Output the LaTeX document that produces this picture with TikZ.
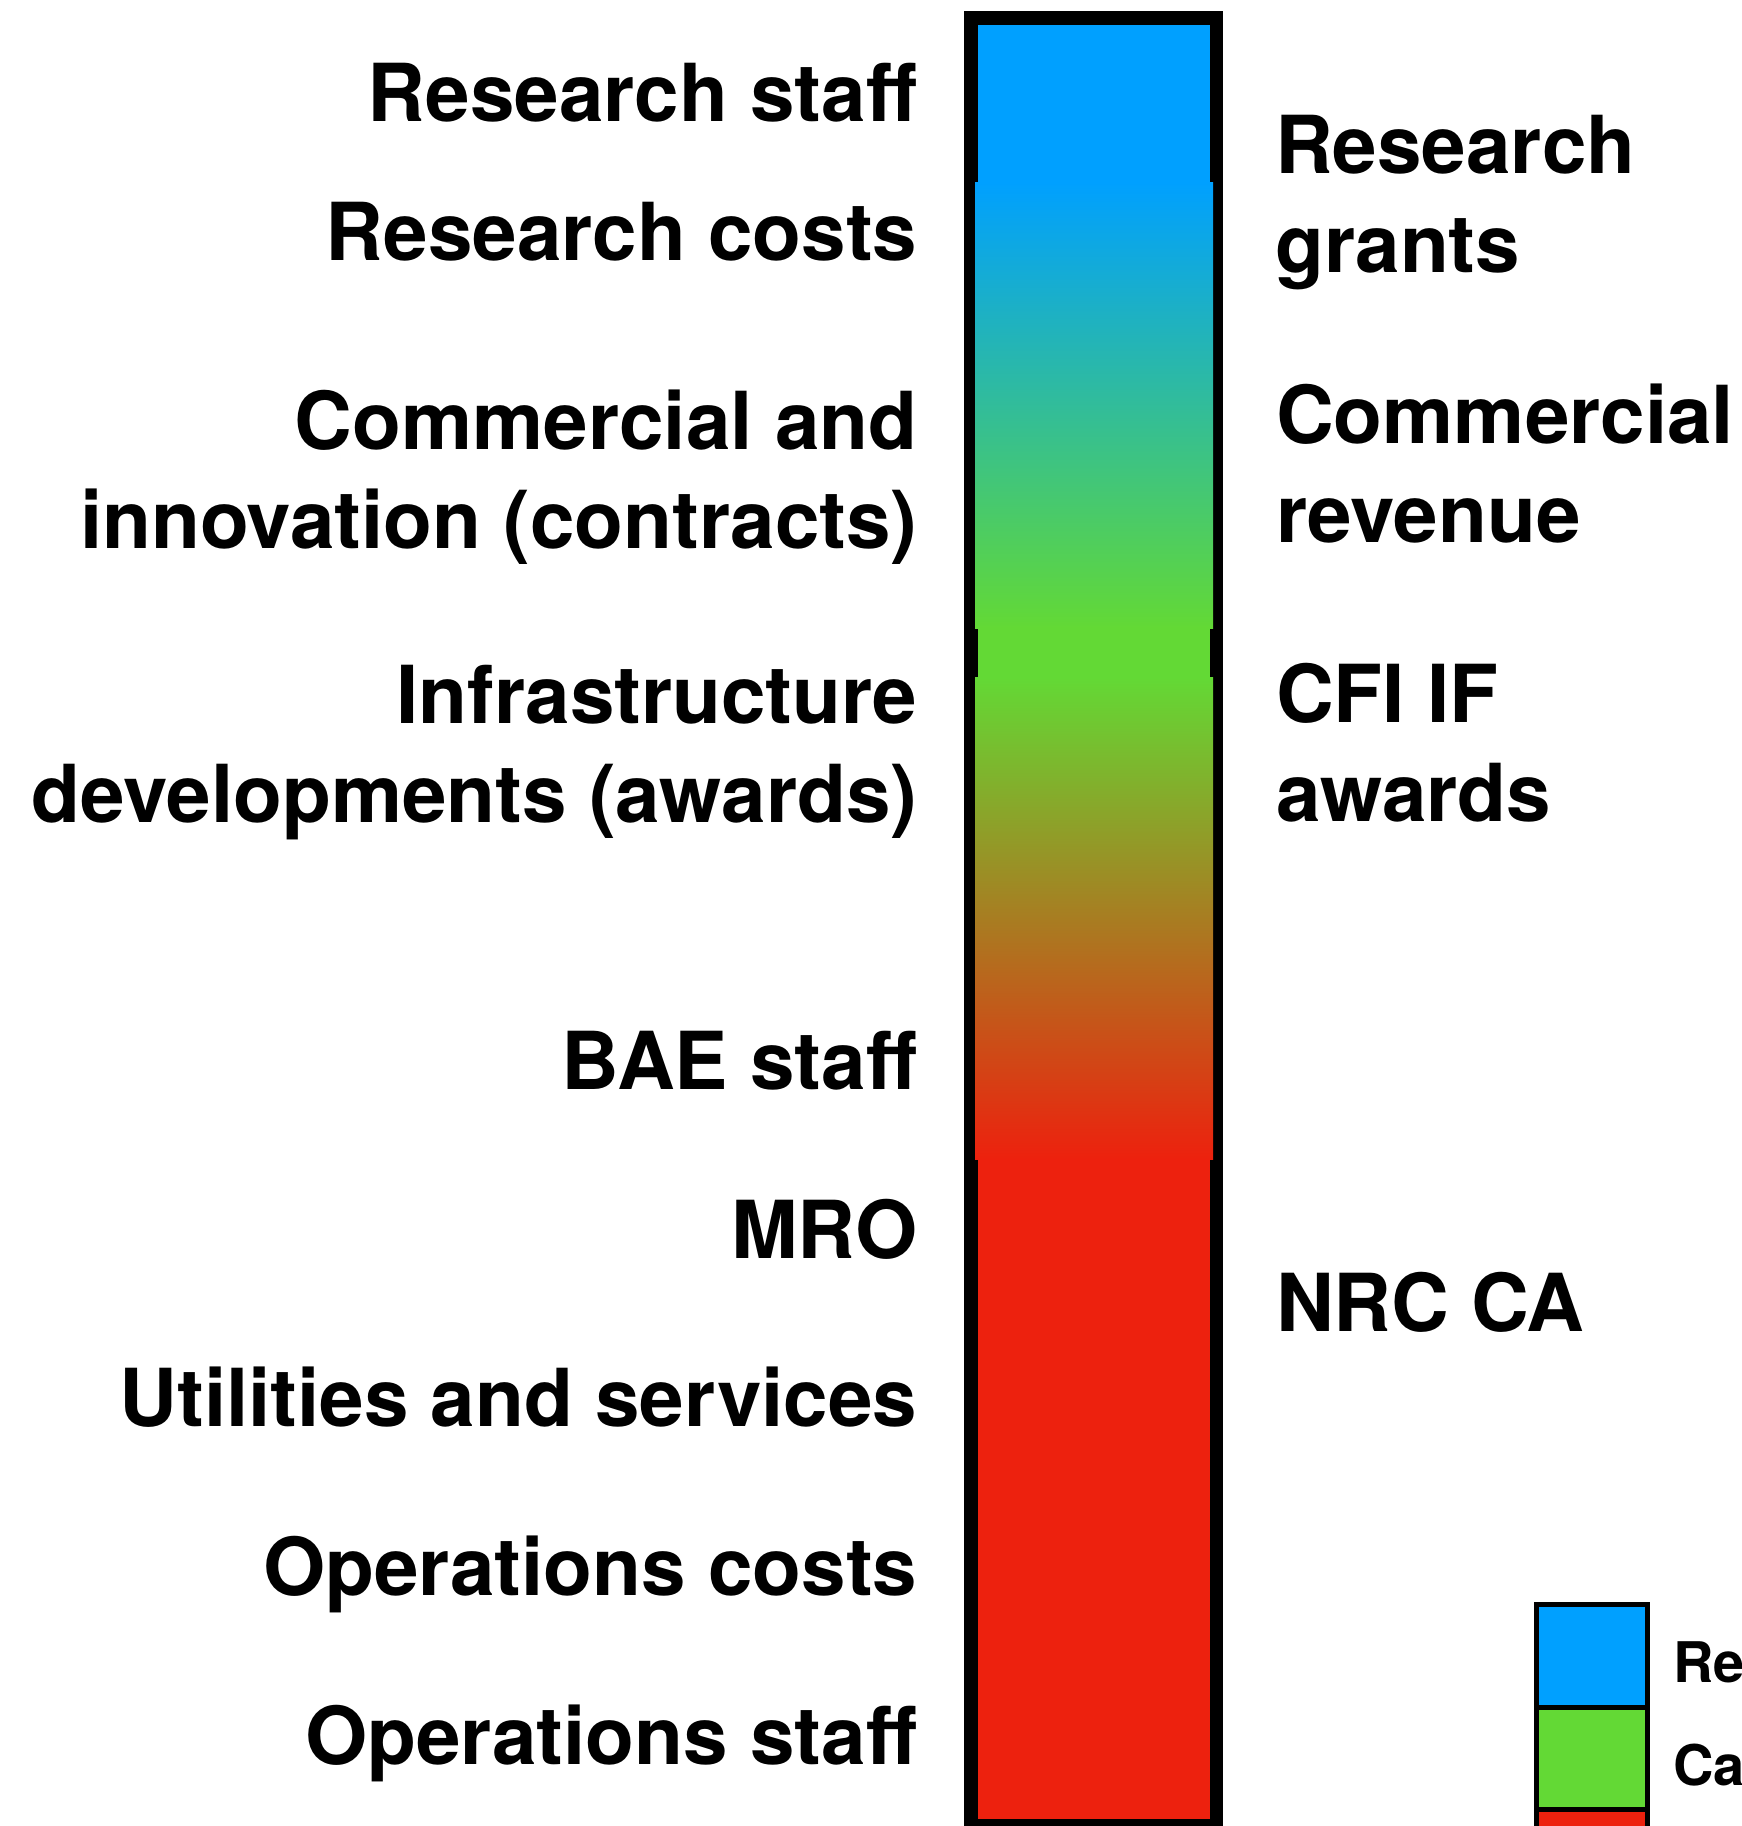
\documentclass[tikz,border=0pt]{standalone}
\usepackage{fontspec}
\setmainfont{TeX Gyre Heros}
\definecolor{resblue}{RGB}{0,160,255}
\definecolor{capgreen}{RGB}{99,217,53}
\definecolor{opred}{RGB}{237,33,14}
\begin{document}
\begin{tikzpicture}[x=1pt,y=-1pt,
  lbl/.style={font=\fontsize{80}{99}\selectfont\bfseries, inner sep=0pt},
  leftlbl/.style={lbl, anchor=base east, align=right},
  rightlbl/.style={lbl, anchor=base west, align=left},
  keytxt/.style={font=\fontsize{56}{66}\selectfont\bfseries, inner sep=0pt, anchor=base west},
  keycell/.style={draw=black, line width=5pt}]
\useasboundingbox (0,0) rectangle (1742,1826);
\clip (0,0) rectangle (1742,1826);

% funding bar: black frame, flat bands and gradient transitions
\fill[black] (964,11) rectangle (1223,1850);
\fill[resblue] (978,25) rectangle (1210,183);
\shade[top color=resblue, bottom color=capgreen] (975,182) rectangle (1213,628);
\fill[capgreen] (978,627) rectangle (1210,678);
\shade[top color=capgreen, bottom color=opred] (975,677) rectangle (1213,1159);
\fill[opred] (978,1158) rectangle (1210,1819);

% expenses (multi-line labels are placed by the baseline of their last line)
\node[leftlbl] (rstaff) at (917.5,121) {Research staff};
\node[leftlbl] (rcosts) at (917.5,260) {Research costs};
\node[leftlbl] (comm)   at (917.5,548) {Commercial and\\innovation (contracts)};
\node[leftlbl] (infra)  at (917.5,822) {Infrastructure\\developments (awards)};
\node[leftlbl] (bae)    at (917.5,1089) {BAE staff};
\node[leftlbl] (mro)    at (917.5,1258) {MRO};
\node[leftlbl] (util)   at (917.5,1426) {Utilities and services};
\node[leftlbl] (opcost) at (917.5,1595) {Operations costs};
\node[leftlbl] (opstaff) at (917.5,1764) {Operations staff};

% revenues
\node[rightlbl] (grants) at (1275,272) {Research\\grants};
\node[rightlbl] (crev)   at (1276,542) {Commercial\\revenue};
\node[rightlbl] (cfi)    at (1276,821) {CFI IF\\awards};
\node[rightlbl] (nrc)    at (1276,1331) {NRC CA};

% key
\draw[keycell, fill=resblue]  (1536.5,1604.5) rectangle (1647.5,1707);
\draw[keycell, fill=capgreen] (1536.5,1707) rectangle (1647.5,1809.5);
\draw[keycell, fill=opred]    (1536.5,1809.5) rectangle (1647.5,1915);
\node[keytxt] (keyr) at (1673,1682) {Re};
\node[keytxt] (keyc) at (1673,1785) {Ca};
\end{tikzpicture}
\end{document}
